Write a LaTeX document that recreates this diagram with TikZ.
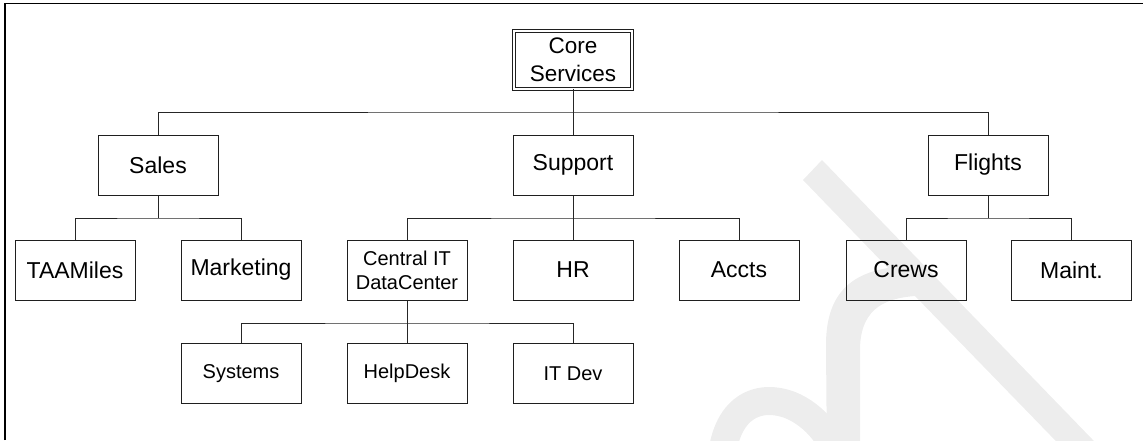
\documentclass[tikz,border=0pt]{standalone}
\usepackage{fontspec}
\setmainfont{Liberation Sans}
\begin{document}
\begin{tikzpicture}[x=1pt,y=-1pt,
  box/.style={draw=black!88, line width=1pt, minimum width=120pt, minimum height=60pt, inner sep=2pt, align=center, font=\fontsize{23}{26}\selectfont},
  smallbox/.style={box, font=\fontsize{20}{23.5}\selectfont},
  rootbox/.style={draw=black!88, line width=0.9pt, double, double distance=2pt, minimum width=118pt, minimum height=58pt, inner sep=2pt, align=center, font=\fontsize{22.5}{28}\selectfont},
  conn/.style={draw=black!85, line width=1pt},
  wm/.style={fill=black!7, draw=none}]
\useasboundingbox (0,0) rectangle (1143,440);
% watermark
\begin{scope}
\clip (0,0) rectangle (1143,440);
\fill[wm] (827,470) -- (826,345) .. controls (826,300) and (845,275) .. (888,268) -- (803,180) -- (822,160) -- (1122,470) -- (1084,470) -- (915,296) .. controls (890,298) and (860,305) .. (860,350) -- (860,470) -- cycle;
\draw[draw=black!7, line width=28pt] (721,470) .. controls (722,410) and (755,392) .. (790,405) .. controls (815,415) and (835,440) .. (843,470);
\end{scope}
% frame
\draw[black, line width=1.3pt] (5,440) -- (5,3.5) -- (1143,3.5);
% nodes
\node[rootbox] (core) at (573,60) {Core\\Services};
\node[box] (sales) at (158,165) {Sales};
\node[box] (support) at (573,165) {Support};
\node[box] (flights) at (988,165) {Flights};
\node[box] (taa) at (75,270) {TAAMiles};
\node[box] (mkt) at (241,270) {Marketing};
\node[smallbox] (cit) at (407,270.5) {Central IT\\DataCenter};
\node[box] (hr) at (573,270) {HR};
\node[box] (accts) at (739,270) {Accts};
\node[box] (crews) at (906,270) {Crews};
\node[box] (maint) at (1071.5,270) {Maint.};
\node[smallbox] (sys) at (241,373.5) {Systems};
\node[smallbox] (help) at (407,373.5) {HelpDesk};
\node[smallbox] (itdev) at (573,373.5) {IT Dev};
% bus points
\coordinate (b1) at (573,112);
\coordinate (b2s) at (158,218);
\coordinate (b2p) at (573,218);
\coordinate (b2f) at (988,218);
\coordinate (b3) at (407,323);
% connectors
\draw[conn] (core.south) -- (b1);
\draw[conn] (sales.north) |- (b1) -| (flights.north);
\draw[conn] (b1) -- (support.north);
\draw[conn] (sales.south) -- (b2s);
\draw[conn] (taa.north) |- (b2s) -| (mkt.north);
\draw[conn] (support.south) -- (b2p);
\draw[conn] (cit.north) |- (b2p) -| (accts.north);
\draw[conn] (b2p) -- (hr.north);
\draw[conn] (flights.south) -- (b2f);
\draw[conn] (crews.north) |- (b2f) -| (maint.north);
\draw[conn] (cit.south) -- (b3);
\draw[conn] (sys.north) |- (b3) -| (itdev.north);
\draw[conn] (b3) -- (help.north);
\end{tikzpicture}
\end{document}
